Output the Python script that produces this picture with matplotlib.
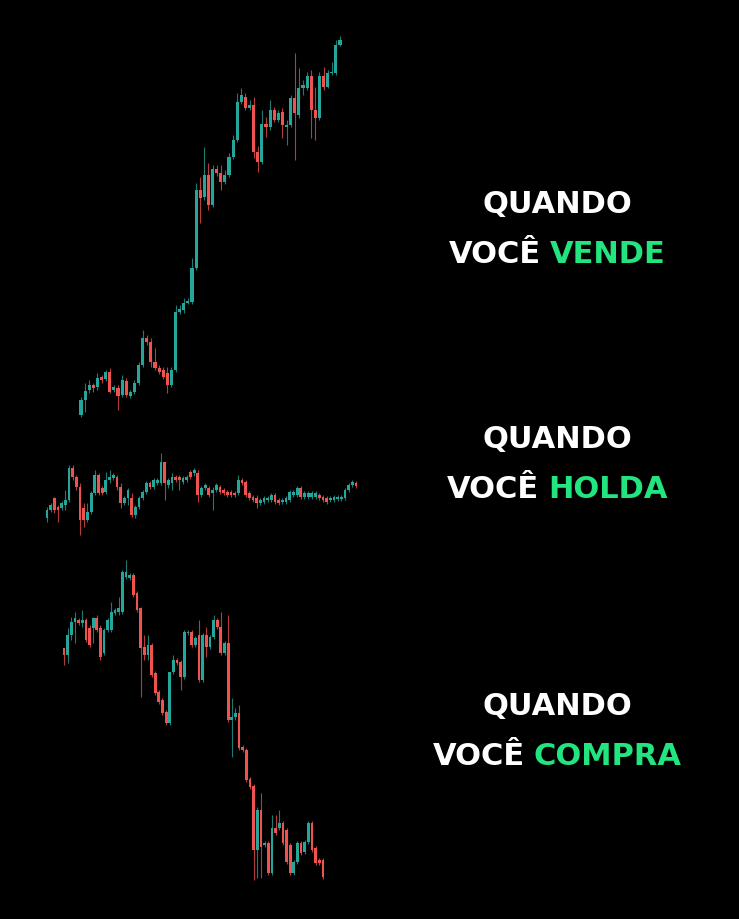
import matplotlib
matplotlib.use("Agg")
import matplotlib.pyplot as plt
import numpy as np

W, H = 739, 919
BG = "#000000"
UP = "#26a69a"
DOWN = "#ef5350"
TXT_GREEN = "#22e57f"

# ---- top chart ("VENDE") : open, close, high, low (price units)
top_open  = [5,20,30,35,33,43,41,48,30,32,25,39,24,28,37,55,82,78,58,52,50,47,35,50,108,110,117,118,152,230,
             223,245,215,251,247,238,245,263,280,318,323,312,315,268,258,296,293,310,300,308,293,295,322,305,332,332,344,310,302,344,
             333,347,347,375]
top_close = [20,29,35,32,42,40,48,28,33,24,40,25,28,37,55,82,78,58,52,48,43,35,50,108,111,117,119,152,230,222,
             245,215,251,247,238,245,263,280,318,325,312,315,268,258,296,293,310,300,307,295,295,322,307,332,335,344,310,302,344,333,
             347,348,375,380]
top_high  = [23,37,40,37,47,45,50,52,35,35,45,42,30,40,58,90,85,82,72,55,53,53,53,115,115,122,122,162,237,243,
             273,257,255,255,255,250,267,285,327,332,327,320,323,274,310,303,320,313,310,312,300,325,367,352,340,348,350,333,348,353,
             350,358,380,384]
top_low   = [3,8,27,28,30,37,39,27,28,10,23,23,22,26,35,53,75,53,50,46,41,27,33,48,106,107,116,116,150,197,
             220,210,213,244,230,236,243,261,278,316,310,310,262,248,256,283,290,298,298,282,275,293,260,302,325,330,282,280,300,330,
             332,345,345,374]

# ---- middle chart ("HOLDA")
mid_open  = [22,30,42,33,32,35,40,72,63,53,32,20,28,47,65,52,48,60,62,63,53,37,42,42,25,33,42,48,57,53,
             57,57,78,55,57,63,63,58,60,68,67,67,45,52,52,47,50,53,50,48,48,47,47,60,58,47,43,42,37,38,
             40,40,45,40,38,38,40,45,45,52,43,43,43,43,45,43,42,40,40,41,41,42,50,55,57]
mid_close = [30,35,30,30,37,40,72,63,53,20,20,28,47,65,47,47,60,63,65,53,37,42,50,25,33,42,48,57,53,60,
             60,78,57,60,63,60,60,62,63,63,70,45,52,55,45,50,55,48,47,45,45,45,60,57,45,42,40,37,40,42,
             42,45,38,37,40,42,48,48,52,43,47,47,47,47,42,40,38,42,43,43,43,50,55,58,54]
mid_high  = [33,37,43,35,39,50,75,75,65,57,37,37,49,70,67,54,68,70,67,65,57,44,52,47,35,44,50,59,59,62,
             62,87,78,62,67,65,65,64,65,70,72,70,54,57,54,53,57,55,52,50,50,49,65,62,60,49,45,45,42,44,
             44,47,47,42,42,44,50,50,54,54,49,49,49,49,47,45,44,44,45,45,45,52,57,60,59]
mid_low   = [18,28,27,18,30,30,38,60,50,5,13,18,26,45,45,45,46,57,60,50,32,35,35,23,22,31,40,46,51,51,
             55,55,40,52,50,58,50,56,58,61,64,38,43,50,43,30,48,46,45,43,43,43,45,55,43,40,38,32,35,36,
             38,38,36,35,36,36,38,43,43,41,41,41,41,41,40,38,36,38,38,39,39,40,48,53,52]

# ---- bottom chart ("COMPRA")
bot_open  = [242,235,255,268,270,267,270,262,262,272,262,237,260,260,277,278,278,313,312,315,297,282,243,235,245,217,198,190,178,167,
             218,230,228,213,257,258,245,255,210,255,243,253,270,263,237,247,170,173,177,143,140,111,104,40,80,45,47,17,62,62,
             67,60,45,17,28,47,38,48,67,42,30,30]
bot_close = [235,255,268,272,267,270,250,245,272,260,233,260,270,278,280,282,318,318,315,295,280,242,235,245,215,197,188,177,167,218,
             230,227,213,258,258,245,252,210,255,243,253,270,263,237,247,170,173,177,142,140,110,103,40,80,43,47,17,62,57,67,
             47,28,17,28,47,37,48,67,40,27,27,13]
bot_high  = [242,262,273,278,272,280,272,265,273,275,265,262,272,288,282,293,320,330,317,317,299,283,255,255,247,219,200,192,180,218,
             235,232,230,260,260,260,254,270,257,263,255,275,272,278,249,275,192,182,185,145,142,113,106,83,97,49,49,75,75,80,
             69,62,47,30,49,49,50,69,69,44,32,32]
bot_low   = [225,227,250,247,265,263,248,243,247,258,230,235,258,258,275,275,276,311,310,293,278,193,230,230,213,195,186,175,165,165,
             216,225,200,211,255,243,243,208,208,233,241,251,261,235,235,168,133,170,140,138,108,101,10,12,12,43,15,15,55,60,
             45,26,15,15,26,35,36,46,38,25,25,11]

# figure-pixel placement of each panel: (first candle x, last candle x, y of price 0, top price)
panels = [
    (top_open, top_close, top_high, top_low, 81, 340, 420, 400),
    (mid_open, mid_close, mid_high, mid_low, 47, 356, 540, 100),
    (bot_open, bot_close, bot_high, bot_low, 64, 323, 890, 340),
]

fig = plt.figure(figsize=(W / 100, H / 100), dpi=100, facecolor=BG)

for o, c, h, l, x0, x1, ybase, ptop in panels:
    n = len(o)
    sp = (x1 - x0) / (n - 1)
    left = (x0 - sp / 2) / W
    width = n * sp / W
    bottom = (H - ybase) / H
    height = ptop / H
    ax = fig.add_axes([left, bottom, width, height])
    ax.set_facecolor("none")
    ax.set_xlim(-0.5, n - 0.5)
    ax.set_ylim(0, ptop)
    ax.axis("off")
    o = np.array(o, float); c = np.array(c, float)
    h = np.array(h, float); l = np.array(l, float)
    idx = np.arange(n)
    cols = [UP if cc >= oo else DOWN for oo, cc in zip(o, c)]
    ax.vlines(idx, l, h, colors=cols, linewidth=0.8, alpha=0.75)
    bot = np.minimum(o, c)
    ht = np.maximum(np.abs(c - o), 1.2)
    ax.bar(idx, ht, bottom=bot, width=0.75, color=cols, linewidth=0)

FS = 22
FONT = dict(family=["DejaVu Sans"], fontweight="bold", fontsize=FS)
CX = 557
renderer = fig.canvas.get_renderer()

def two_color(y_base_px, white, green):
    t1 = fig.text(0, 1 - y_base_px / H, white, color="white", ha="left", va="baseline", **FONT)
    t2 = fig.text(0, 1 - y_base_px / H, green, color=TXT_GREEN, ha="left", va="baseline", **FONT)
    w1 = t1.get_window_extent(renderer).width
    w2 = t2.get_window_extent(renderer).width
    gap = 9
    start = CX - (w1 + gap + w2) / 2
    t1.set_x(start / W)
    t2.set_x((start + w1 + gap) / W)

blocks = [(213, 263, "VENDE"), (448, 498, "HOLDA"), (715, 765, "COMPRA")]
for yq, yv, word in blocks:
    fig.text(CX / W, 1 - yq / H, "QUANDO", color="white", ha="center", va="baseline", **FONT)
    two_color(yv, "VOCÊ", word)

fig.savefig("out.png", dpi=100, facecolor=BG)
